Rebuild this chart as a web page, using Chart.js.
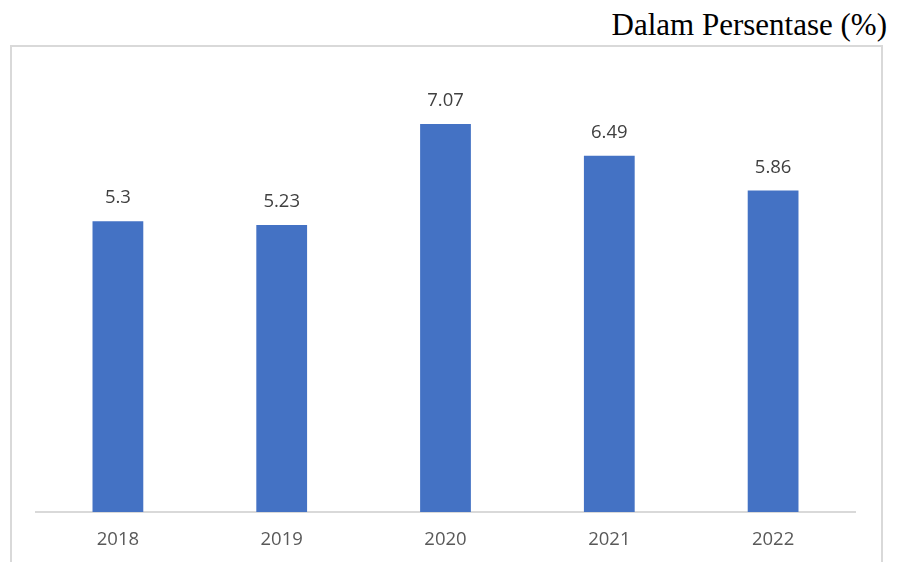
<!DOCTYPE html>
<html>
<head>
<meta charset="utf-8">
<script src="https://cdn.jsdelivr.net/npm/chart.js@4/dist/chart.umd.min.js"></script>
<style>
  html, body { margin: 0; padding: 0; background: #fff; }
  #wrap { position: relative; width: 898px; height: 562px; overflow: hidden; }
  #title { position: absolute; right: 11px; top: 5px; font-family: "Liberation Serif", "DejaVu Serif", serif; font-size: 31px; color: #000; white-space: nowrap; line-height: 40px; }
  #frame { position: absolute; left: 10px; top: 45px; width: 873px; height: 600px; border: 2px solid #d9d9d9; box-sizing: border-box; }
  #c { position: absolute; left: 0; top: 0; }
</style>
</head>
<body>
<div id="wrap">
  <div id="title">Dalam Persentase (%)</div>
  <div id="frame"></div>
  <canvas id="c" width="898" height="562"></canvas>
</div>
<script>
const categories = ["2018", "2019", "2020", "2021", "2022"];
const values = [5.3, 5.23, 7.07, 6.49, 5.86];
const valueLabels = ["5.3", "5.23", "7.07", "6.49", "5.86"];

const labelPlugin = {
  id: 'valueLabels',
  afterDatasetsDraw(chart) {
    const ctx = chart.ctx;
    const meta = chart.getDatasetMeta(0);
    ctx.save();
    ctx.font = '18.5px "Open Sans", sans-serif';
    ctx.fillStyle = '#404040';
    ctx.textAlign = 'center';
    ctx.textBaseline = 'middle';
    meta.data.forEach((bar, i) => {
      ctx.fillText(valueLabels[i], bar.x, bar.y - 23);
    });
    ctx.restore();
  }
};

new Chart(document.getElementById('c'), {
  type: 'bar',
  data: {
    labels: categories,
    datasets: [{
      data: values,
      backgroundColor: '#4472C4',
      borderWidth: 0,
      categoryPercentage: 1,
      barPercentage: 0.31
    }]
  },
  options: {
    responsive: false,
    animation: false,
    events: [],
    layout: { padding: { left: 36, right: 43, top: 73, bottom: 0 } },
    plugins: { legend: { display: false }, title: { display: false }, tooltip: { enabled: false } },
    scales: {
      x: {
        grid: { display: false, drawTicks: false },
        border: { display: true, color: '#d9d9d9', width: 2 },
        ticks: { color: '#595959', font: { family: '"Open Sans", sans-serif', size: 18.5 }, padding: 17, maxRotation: 0 },
        afterFit(s) { s.height = 50; }
      },
      y: {
        display: false,
        min: 0,
        max: 8
      }
    }
  },
  plugins: [labelPlugin]
});
</script>
</body>
</html>
